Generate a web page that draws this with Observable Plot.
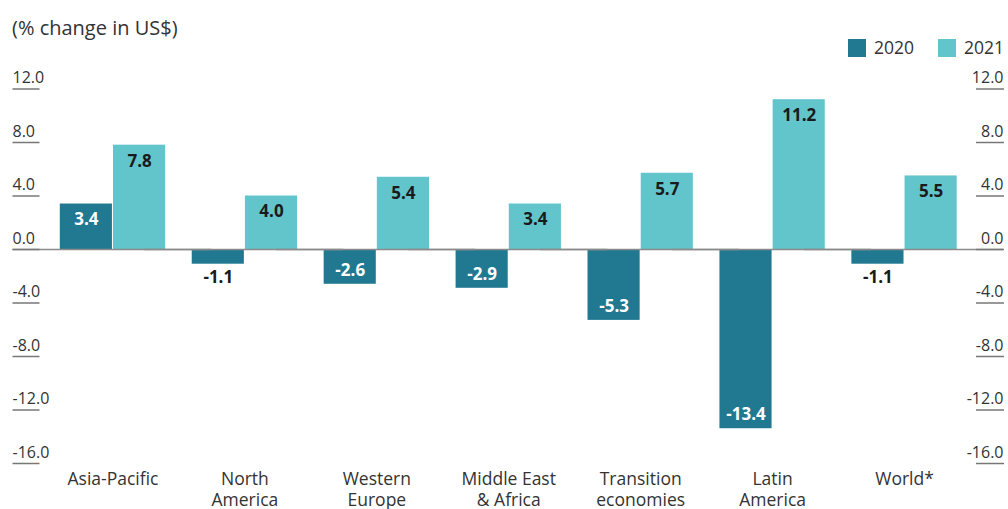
<!DOCTYPE html>
<html>
<head>
<meta charset="utf-8">
<script src="https://cdn.jsdelivr.net/npm/d3@7"></script>
<script src="https://cdn.jsdelivr.net/npm/@observablehq/plot@0.6"></script>
<style>
  html, body { margin: 0; padding: 0; background: #fff; }
  body { font-family: "Open Sans", sans-serif; color: #333; }
  #wrap { width: 1008px; height: 509px; position: relative; overflow: hidden; }
  #header { position: relative; height: 60px; }
  #title { position: absolute; left: 12px; top: 18px; font-size: 20px; line-height: 1; color: #333; }
  .leg { position: absolute; top: 39px; display: flex; align-items: center; font-size: 17.5px; line-height: 1; color: #333; }
  .sw { width: 18px; height: 18px; margin-right: 8px; }
  #chart svg { display: block; }
</style>
</head>
<body>
<div id="wrap">
  <div id="header">
    <div id="title">(% change in US$)</div>
    <div class="leg" style="left:848px"><div class="sw" style="background:#217891"></div><span>2020</span></div>
    <div class="leg" style="left:938px"><div class="sw" style="background:#62c5cc"></div><span>2021</span></div>
  </div>
  <div id="chart"></div>
</div>
<script>
const regions = ["Asia-Pacific", "North\nAmerica", "Western\nEurope", "Middle East\n& Africa", "Transition\neconomies", "Latin\nAmerica", "World*"];
const years = ["2020", "2021"];
const values2020 = [3.4, -1.1, -2.6, -2.9, -5.3, -13.4, -1.1];
const values2021 = [7.8, 4.0, 5.4, 3.4, 5.7, 11.2, 5.5];
const yTicks = [-16, -12, -8, -4, 0, 4, 8, 12];
const colors = ["#217891", "#62c5cc"];

const data = [];
regions.forEach((r, i) => {
  data.push({region: r, year: "2020", value: values2020[i]});
  data.push({region: r, year: "2021", value: values2021[i]});
});

const fmt = d => d.toFixed(1);
const d20 = data.filter(d => d.year === "2020");
const d21 = data.filter(d => d.year === "2021");
const labelOpts = {fx: "region", x: "year", y: "value", text: d => fmt(d.value), fontWeight: "bold", fontSize: 17};

const chart = Plot.plot({
  width: 1008,
  height: 449,
  marginLeft: 46.5,
  marginRight: 38,
  marginTop: 28.5,
  marginBottom: 46,
  style: {fontFamily: "Open Sans, sans-serif", fontSize: "16px", color: "#333", background: "#fff"},
  fx: {domain: regions, padding: 0, round: false, label: null},
  x: {domain: years, paddingInner: 0.02, paddingOuter: 0.25, round: false, axis: null},
  y: {domain: [-16, 12], axis: null},
  color: {domain: years, range: colors},
  marks: [
    Plot.barY(data, {fx: "region", x: "year", y: "value", fill: "year"}),
    Plot.ruleY([0], {stroke: "#8a8a8a", strokeWidth: 1.5, insetLeft: -34, insetRight: -33}),
    Plot.text(d21, {...labelOpts, dy: 16, fill: "#1a1a1a"}),
    Plot.text(d20.filter(d => d.value > 0), {...labelOpts, dy: 16, fill: "#ffffff"}),
    Plot.text(d20.filter(d => d.value < -2), {...labelOpts, dy: -14, fill: "#ffffff"}),
    Plot.text(d20.filter(d => d.value < 0 && d.value >= -2), {...labelOpts, dy: 13, fill: "#1a1a1a"}),
    Plot.axisY({anchor: "left", ticks: yTicks, tickSize: 0, tickPadding: 0, textAnchor: "start", dx: -34.5, dy: -11, tickFormat: fmt, fontSize: 16, fill: "#333", label: null}),
    Plot.axisY({anchor: "left", ticks: yTicks, text: null, tickSize: 27, dx: -7, stroke: "#777", strokeWidth: 1.5, label: null}),
    Plot.axisY({anchor: "right", ticks: yTicks, tickSize: 0, tickPadding: 0, textAnchor: "end", dx: 33, dy: -11, tickFormat: fmt, fontSize: 16, fill: "#333", label: null}),
    Plot.axisY({anchor: "right", ticks: yTicks, text: null, tickSize: 28, dx: 5, stroke: "#777", strokeWidth: 1.5, label: null}),
    Plot.axisFx({anchor: "bottom", tickSize: 0, tickPadding: 7, fontSize: 17.5, lineHeight: 1.2, fill: "#333", label: null})
  ]
});
document.getElementById("chart").appendChild(chart);
</script>
</body>
</html>
